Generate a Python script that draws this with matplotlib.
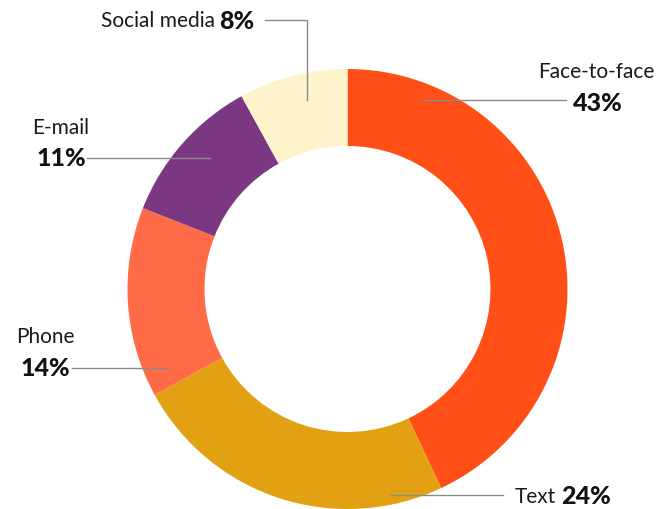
import matplotlib.pyplot as plt

# channel shares (%), clockwise from the top
channels = ["Face-to-face", "Text", "Phone", "E-mail", "Social media"]
shares = [43, 24, 14, 11, 8]
colors = ["#FF4F16", "#E2A112", "#FF6B47", "#7B3781", "#FFF3CB"]

W, H = 656, 509

fig = plt.figure(figsize=(W / 100, H / 100), dpi=100)
ax = fig.add_axes([0, 0, 1, 1])

cx, cy, r = 347.5, H - 289, 220
ax.pie(shares, colors=colors, startangle=90, counterclock=False,
       center=(cx, cy), radius=r, frame=True,
       wedgeprops=dict(width=r * 0.35, linewidth=0))
ax.set_xlim(0, W)
ax.set_ylim(0, H)
ax.set_aspect("equal")
ax.axis("off")

name_kw = dict(fontsize=15, family="Lato", color="#1a1a1a")
pct_kw = dict(fontsize=18, family="Lato", fontweight="black", color="#111111")
line_kw = dict(color="#8a8a8a", lw=1)


def y(p):
    return H - p


# Social media
ax.text(254, y(21), f"{shares[4]}%", ha="right", va="center", **pct_kw)
ax.text(215, y(21), channels[4], ha="right", va="center", **name_kw)
ax.plot([265, 307, 307], [y(20), y(20), y(100)], **line_kw)

# E-mail
ax.text(32, y(128), channels[3], ha="left", va="center", **name_kw)
ax.text(36, y(158), f"{shares[3]}%", ha="left", va="center", **pct_kw)
ax.plot([87, 210], [y(158), y(158)], **line_kw)

# Face-to-face
ax.text(654, y(72), channels[0], ha="right", va="center", **name_kw)
ax.text(623, y(103), f"{shares[0]}%", ha="right", va="center", **pct_kw)
ax.plot([422, 566], [y(100), y(100)], **line_kw)

# Phone
ax.text(16, y(337), channels[2], ha="left", va="center", **name_kw)
ax.text(21, y(368), f"{shares[2]}%", ha="left", va="center", **pct_kw)
ax.plot([72, 167], [y(368), y(368)], **line_kw)

# Text
ax.text(515, y(497), channels[1], ha="left", va="center", **name_kw)
ax.text(611, y(497), f"{shares[1]}%", ha="right", va="center", **pct_kw)
ax.plot([391, 503], [y(495), y(495)], **line_kw)

plt.savefig("out.png", dpi=100)
